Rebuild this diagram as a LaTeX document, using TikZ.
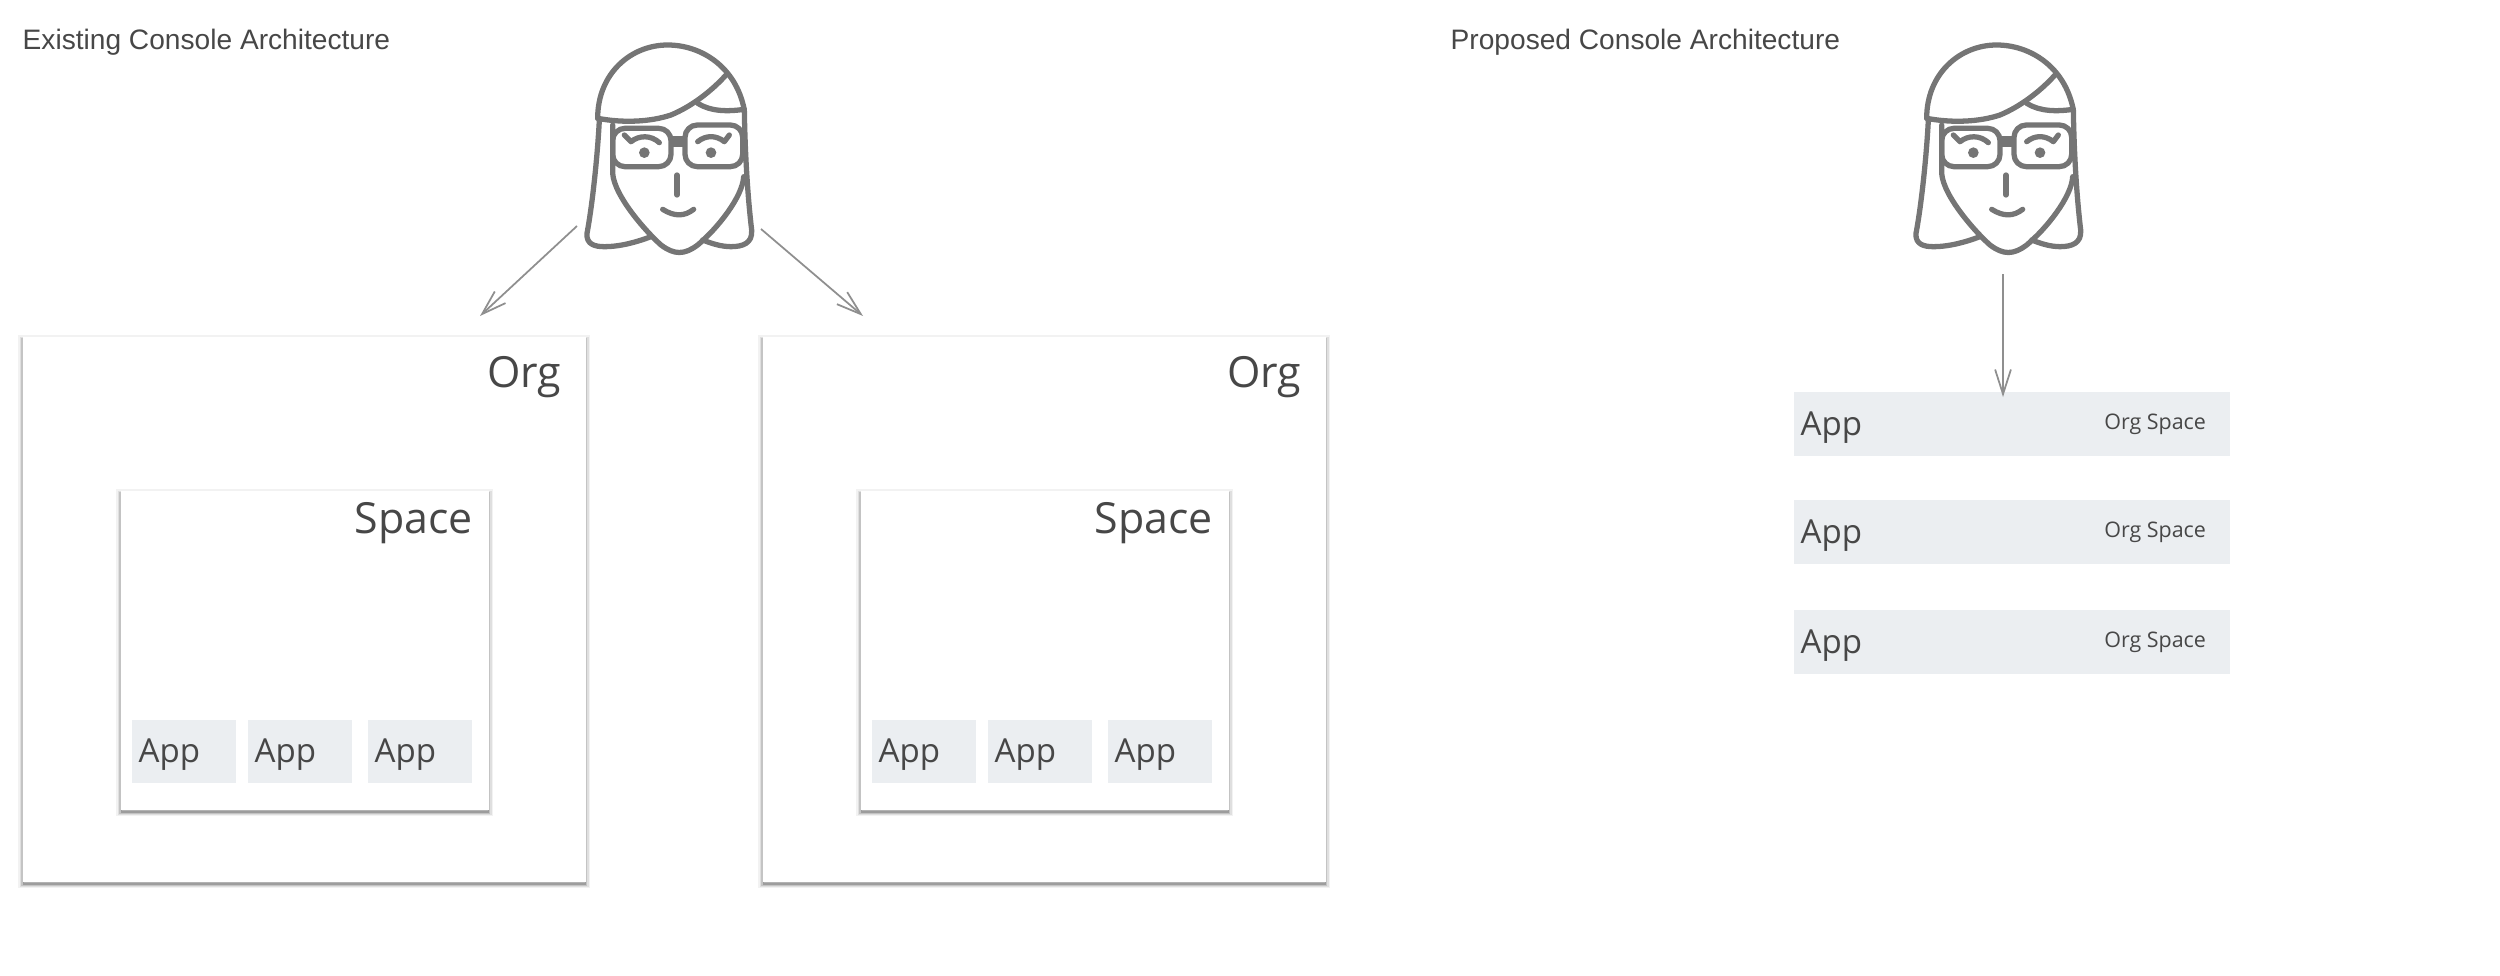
\documentclass[tikz,border=0pt]{standalone}
\usepackage{fontspec}
\setmainfont{Liberation Sans}
\newfontfamily\boxfont{Open Sans}
\usetikzlibrary{arrows.meta,positioning,shadows}
\definecolor{usergray}{HTML}{757575}
\definecolor{linkgray}{HTML}{8F8F8F}
\definecolor{appgray}{HTML}{EBEEF1}
\definecolor{textgray}{HTML}{474747}
\tikzset{
  softlayer/.style n args={3}{drop shadow={shadow xshift=0pt,shadow yshift=#1,fill=none,draw=black,line width=#2,opacity=#3}},
  softshadow/.style={
    softlayer={-.6pt}{2.4pt}{.05},
    softlayer={-.7pt}{1.5pt}{.08},
    softlayer={-.7pt}{.7pt}{.12},
    drop shadow={shadow xshift=0pt,shadow yshift=-.9pt,fill=black,opacity=.2}},
  heading/.style={anchor=west,inner sep=0pt,text=textgray,font=\fontsize{8pt}{9pt}\selectfont},
  orgbox/.style={anchor=north west,fill=white,inner sep=0pt,minimum width=5.63cm,minimum height=5.45cm,softshadow},
  spacebox/.style={anchor=north west,fill=white,inner sep=0pt,minimum width=3.68cm,minimum height=3.19cm,softshadow},
  appbox/.style={anchor=north west,fill=appgray,inner sep=0pt,text=textgray,minimum width=1.04cm,minimum height=.63cm},
  striptag/.style={anchor=west,fill=appgray,inner sep=0pt,minimum width=4.36cm,minimum height=.635cm},
  bigtag/.style={anchor=north east,inner sep=0pt,text=textgray,font=\boxfont\fontsize{12.2pt}{14pt}\selectfont},
  apptag/.style={anchor=west,inner sep=0pt,text=textgray,yshift=-.035cm,font=\boxfont\fontsize{9.4pt}{11pt}\selectfont},
  smalltag/.style={anchor=east,inner sep=0pt,text=textgray,yshift=-.005cm,font=\boxfont\fontsize{6.1pt}{8pt}\selectfont},
  link/.style={draw=linkgray,line width=.5pt,-{Straight Barb[length=7pt,width=4.5pt]}},
  user/.pic={
    \begin{scope}[scale=1/3,draw=usergray,line width=1.5pt,line cap=round,line join=round]
      % hair
      \draw (110,295) .. controls (110,160) and (210,75) .. (320,75) .. controls (420,75) and (525,140) .. (550,270);
      \draw (110,295) .. controls (190,310) and (270,305) .. (330,285) .. controls (390,260) and (450,215) .. (495,165);
      \draw (410,250) .. controls (450,275) and (500,275) .. (550,268);
      \draw (115,300) .. controls (110,400) and (95,550) .. (78,640) .. controls (75,675) and (105,680) .. (130,680) .. controls (180,680) and (230,665) .. (270,650);
      \draw (550,270) .. controls (552,400) and (560,530) .. (572,630) .. controls (575,670) and (545,680) .. (510,680) .. controls (480,680) and (450,670) .. (425,660);
      % face
      \draw (155,315) -- (155,460) .. controls (160,530) and (260,640) .. (300,675) .. controls (340,705) and (370,705) .. (410,675) .. controls (470,625) and (545,530) .. (548,470);
      % glasses
      \draw[rounded corners=3.5pt] (155,325) rectangle (330,440);
      \draw[rounded corners=3.5pt] (372,315) rectangle (545,440);
      \draw[line width=3pt,line cap=butt] (325,365) -- (372,365);
      % eyes and brows
      \fill[usergray] (250,398) circle (16);
      \fill[usergray] (450,398) circle (16);
      \draw (190,345) -- (210,365) .. controls (235,345) and (270,345) .. (295,368);
      \draw (505,345) -- (490,365) .. controls (465,345) and (435,345) .. (410,365);
      % nose and mouth
      \draw (348,465) -- (348,525);
      \draw (305,568) .. controls (340,590) and (370,590) .. (398,568);
    \end{scope}
  }
}
\begin{document}
\begin{tikzpicture}[x=0.01cm,y=-0.01cm]
  \useasboundingbox (0,0) rectangle (2500,976);
  % headings
  \node[heading] (oldtitle) at (22,42.5) {Existing Console Architecture};
  \node[heading] (newtitle) at (1450,42.5) {Proposed Console Architecture};
  % people
  \pic at (561,20) {user};
  \pic at (1890,20) {user};
  % existing side
  \foreach \i/\x in {1/0,2/740} {
    \node[orgbox] (org\i) at (22+\x,336) {};
    \node[bigtag,below left=.2cm and .25cm of org\i.north east,anchor=north east] (orgtag\i) {Org};
    \node[spacebox] (space\i) at (120+\x,490) {};
    \node[bigtag,below left=.12cm and .16cm of space\i.north east,anchor=north east] (spacetag\i) {Space};
    \node[appbox] (appa\i) at (131+\x,719) {};
    \node[appbox] (appb\i) at (247+\x,719) {};
    \node[appbox] (appc\i) at (367+\x,719) {};
    \node[apptag,right=.07cm of appa\i.west,anchor=west] (appatag\i) {App};
    \node[apptag,right=.07cm of appb\i.west,anchor=west] (appbtag\i) {App};
    \node[apptag,right=.07cm of appc\i.west,anchor=west] (appctag\i) {App};
  }
  % proposed side
  \foreach \i/\y in {1/424,2/532,3/642} {
    \node[striptag] (strip\i) at (1793,\y) {};
    \node[apptag,right=.07cm of strip\i.west,anchor=west] (striptitle\i) {App};
    \node[smalltag,left=.24cm of strip\i.east,anchor=east] (stripinfo\i) {Org Space};
  }
  % arrows
  \coordinate (userleft) at (577,226);
  \coordinate (userright) at (761,229);
  \coordinate (usernew) at (2003,274);
  \coordinate (orgtipa) at (480,316);
  \coordinate (orgtipb) at (863,316);
  \coordinate (striptip) at (2003,397);
  \draw[link] (userleft) -- (orgtipa);
  \draw[link] (userright) -- (orgtipb);
  \draw[link] (usernew) -- (striptip);
\end{tikzpicture}
\end{document}
